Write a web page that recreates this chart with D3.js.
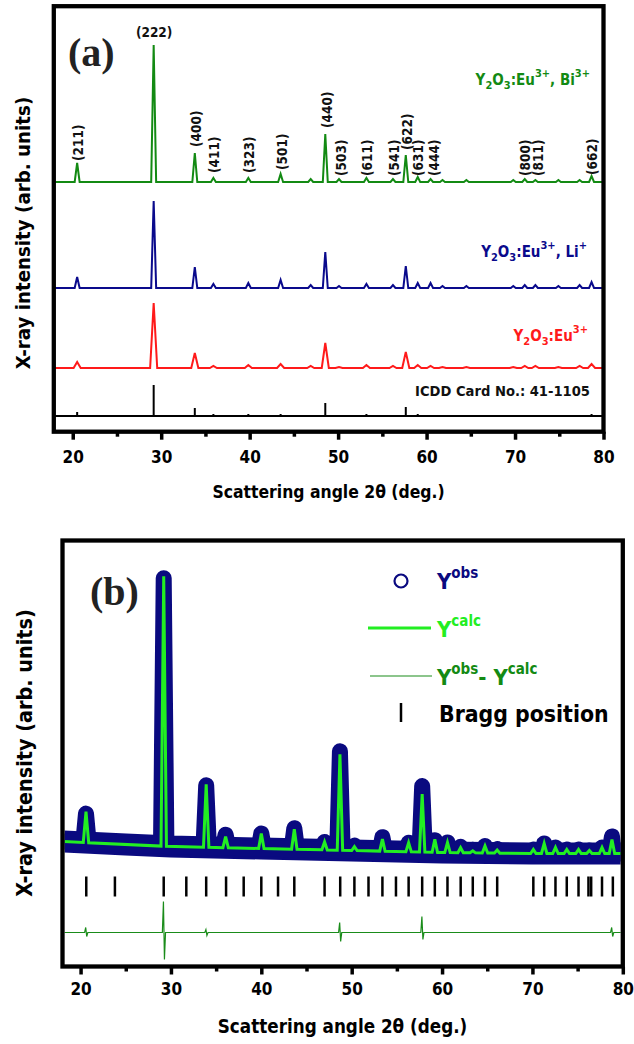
<!DOCTYPE html>
<html>
<head>
<meta charset="utf-8">
<script src="https://d3js.org/d3.v7.min.js"></script>
<style>
  body { margin: 0; background: #fff; }
  text { font-family: "DejaVu Sans Condensed", "DejaVu Sans", sans-serif; font-weight: bold; }
</style>
</head>
<body>
<div id="chart"></div>
<script>
var W = 634, H = 1044;

var xTicks = [20, 30, 40, 50, 60, 70, 80];
var xMinorTicks = [25, 35, 45, 55, 65, 75];

// ---- panel (a): peak positions (2theta) and heights above each trace baseline ----
var peakPos = [20.5, 29.15, 33.8, 35.9, 39.85, 43.5, 46.9, 48.55, 50.1, 53.2, 56.2, 57.65, 59.0, 60.45, 61.8, 64.5, 69.8, 71.1, 72.3, 74.9, 77.3, 78.65];
var biHeights = [19, 137, 29, 4, 4, 8, 3, 48, 3, 4, 3, 27, 5, 3, 2, 2, 2, 3, 2, 2, 2, 6];
var liHeights = [11, 87, 21, 4, 5, 8, 3, 36, 2, 4, 3, 22, 5, 5, 2, 2, 2, 3, 3, 2, 3, 6];
var euHeights = [6, 65, 15, 2, 3, 4, 2, 25, 1, 3, 2, 16, 3, 2, 1, 1, 1, 2, 2, 1, 2, 4];
var icddHeights = [4, 31, 8, 2, 2, 2, 1, 13, 1, 2, 1, 9, 2, 1, 1, 1, 1, 1, 1, 1, 1, 2];
var traceOffsets = [250, 144, 64];
var icddBase = 16;

// hkl labels on the top trace (label centre, label start above trace baseline)
var hklText = ["(211)", "(400)", "(411)", "(323)", "(501)", "(440)", "(503)", "(611)", "(541)", "(622)", "(631)", "(444)", "(800)", "(811)", "(662)"];
var hklPos = [20.6, 33.9, 35.95, 39.9, 43.65, 48.75, 50.3, 53.3, 56.3, 57.75, 59.05, 60.8, 71.1, 72.65, 78.75];
var hklLevel = [21, 35, 9, 9, 12, 54, 6, 6, 6, 32, 6, 6, 6, 6, 7];

// ---- panel (b): Rietveld refinement ----
var bgPos = [18, 25, 30, 40, 50, 60, 70, 80];
var bgLevel = [125, 122, 120, 118, 116, 114, 113, 113];
var calcPos = [20.6, 29.2, 33.9, 36.05, 40.0, 43.65, 47.0, 48.7, 50.3, 53.4, 56.3, 57.8, 59.2, 60.6, 62.05, 63.4, 64.75, 66.1, 70.1, 71.3, 72.55, 73.8, 75.1, 76.3, 77.7, 78.8];
var calcHeights = [31, 270, 63, 11, 15, 20, 8, 96, 4, 12, 9, 58, 13, 10, 5, 2, 7, 3, 4, 10, 6, 4, 4, 3, 6, 14];
var obsHeights = [29, 268, 62, 13, 15, 21, 8, 99, 5, 14, 9, 66, 12, 10, 6, 3, 7, 4, 4, 10, 6, 4, 4, 3, 6, 17];
var braggPos = [20.63, 23.8, 29.2, 31.7, 33.9, 36.1, 38.05, 40.0, 41.85, 43.65, 47.0, 48.73, 50.3, 51.86, 53.4, 54.9, 56.3, 57.8, 59.2, 60.6, 62.06, 63.4, 64.75, 66.1, 70.1, 71.3, 72.55, 73.8, 75.1, 76.2, 76.5, 77.7, 78.9];
var diffPos = [20.6, 29.2, 33.9, 48.7, 57.8, 78.8];
var diffUp = [5, 31, 3, 10, 16, 5];
var diffDown = [-4, -27, -3, -9, -7, -4];
var diffLevel = 34;

var svg = d3.select("#chart").append("svg")
    .attr("width", W)
    .attr("height", H);

function profile(pos, hts, w, lo, hi) {
    var pts = [[lo, 0]];
    pos.forEach(function (p, i) {
        pts.push([p - w, 0], [p, hts[i]], [p + w, 0]);
    });
    pts.push([hi, 0]);
    return pts;
}

function frame(x0, y0, x1, y1) {
    svg.append("rect")
        .attr("x", x0).attr("y", y0)
        .attr("width", x1 - x0).attr("height", y1 - y0)
        .attr("fill", "none").attr("stroke", "#000").attr("stroke-width", 4.3);
}

function xAxis(x, y0, labelY) {
    var g = svg.append("g").attr("transform", "translate(0," + y0 + ")")
        .call(d3.axisBottom(x).tickValues(xTicks).tickSize(8).tickFormat(d3.format("d")));
    g.select(".domain").remove();
    g.selectAll("line").attr("stroke-width", 3.5);
    g.selectAll("text").attr("y", labelY).attr("dy", null).attr("font-size", 17).attr("fill", "#000");
    var m = svg.append("g").attr("transform", "translate(0," + y0 + ")")
        .call(d3.axisBottom(x).tickValues(xMinorTicks).tickSize(5).tickFormat(""));
    m.select(".domain").remove();
    m.selectAll("line").attr("stroke-width", 3.5);
}

// rich text with sub/superscripts: parts = [[text, "n"|"sub"|"sup"], ...]
function richText(x, y, parts, size, small, color, anchor) {
    var t = svg.append("text").attr("x", x).attr("y", y)
        .attr("fill", color).attr("text-anchor", anchor || "start");
    var shift = 0;
    parts.forEach(function (p) {
        var target = p[1] === "sub" ? small * 0.35 : p[1] === "sup" ? -small * 0.75 : 0;
        t.append("tspan").attr("dy", target - shift)
            .attr("font-size", p[1] === "n" ? size : small)
            .text(p[0]);
        shift = target;
    });
    return t;
}

// ================= panel (a) =================
var xA = d3.scaleLinear().domain([17.86, 80]).range([53.8, 603.5]);
var yA = d3.scaleLinear().domain([0, 425]).range([432, 7]);

var traceColors = ["#138a13", "#0a0a8c", "#ff1a1a"];
var traceHeights = [biHeights, liHeights, euHeights];
var traceWidths = [0.28, 0.28, 0.4];

traceHeights.forEach(function (hts, k) {
    var off = traceOffsets[k];
    var line = d3.line()
        .x(function (d) { return xA(d[0]); })
        .y(function (d) { return yA(off + d[1]); });
    svg.append("path")
        .datum(profile(peakPos, hts, traceWidths[k], 17.86, 80))
        .attr("d", line)
        .attr("fill", "none")
        .attr("stroke", traceColors[k])
        .attr("stroke-width", 2);
});

// ICDD reference sticks
svg.append("line")
    .attr("x1", xA(17.86)).attr("x2", xA(80))
    .attr("y1", yA(icddBase)).attr("y2", yA(icddBase))
    .attr("stroke", "#000").attr("stroke-width", 2);
svg.selectAll(".icdd").data(peakPos).enter().append("line")
    .attr("class", "icdd")
    .attr("x1", function (d) { return xA(d); })
    .attr("x2", function (d) { return xA(d); })
    .attr("y1", yA(icddBase))
    .attr("y2", function (d, i) { return yA(icddBase + icddHeights[i]); })
    .attr("stroke", "#000").attr("stroke-width", 2);

// hkl labels
svg.append("text")
    .attr("x", xA(29.2)).attr("y", 37)
    .attr("text-anchor", "middle").attr("font-size", 13.5).attr("fill", "#111")
    .text("(222)");
svg.selectAll(".hkl").data(hklText).enter().append("text")
    .attr("class", "hkl")
    .attr("transform", function (d, i) {
        return "translate(" + xA(hklPos[i]) + "," + yA(traceOffsets[0] + hklLevel[i]) + ") rotate(-90)";
    })
    .attr("dy", "0.36em")
    .attr("font-size", 13.5).attr("fill", "#111")
    .text(function (d) { return d; });

// sample labels
richText(590, 85, [["Y", "n"], ["2", "sub"], ["O", "n"], ["3", "sub"], [":Eu", "n"], ["3+", "sup"], [", Bi", "n"], ["3+", "sup"]], 15, 11, traceColors[0], "end");
richText(587, 257, [["Y", "n"], ["2", "sub"], ["O", "n"], ["3", "sub"], [":Eu", "n"], ["3+", "sup"], [", Li", "n"], ["+", "sup"]], 15, 11, traceColors[1], "end");
richText(588, 341, [["Y", "n"], ["2", "sub"], ["O", "n"], ["3", "sub"], [":Eu", "n"], ["3+", "sup"]], 15, 11, traceColors[2], "end");
svg.append("text")
    .attr("x", 590).attr("y", 396)
    .attr("text-anchor", "end").attr("font-size", 14.6).attr("fill", "#111")
    .text("ICDD Card No.: 41-1105");

frame(53.8, 6.2, 603.5, 431.7);
xAxis(xA, 431.7, 31);

svg.append("text")
    .attr("x", 68).attr("y", 66)
    .style("font-family", "'Liberation Serif', serif")
    .attr("font-size", 40).attr("fill", "#222")
    .text("(a)");
svg.append("text")
    .attr("x", 328.5).attr("y", 498)
    .attr("text-anchor", "middle").attr("font-size", 17.4)
    .text("Scattering angle 2\u03b8 (deg.)");
svg.append("text")
    .attr("transform", "translate(30,233) rotate(-90)")
    .attr("text-anchor", "middle").attr("font-size", 20.3)
    .text("X-ray intensity (arb. units)");

// ================= panel (b) =================
var xB = d3.scaleLinear().domain([18, 80]).range([62.5, 622.8]);
var yB = d3.scaleLinear().domain([0, 426]).range([966.5, 540.5]);
var bg = d3.scaleLinear().domain(bgPos).range(bgLevel);

var lineB = d3.line()
    .x(function (d) { return xB(d[0]); })
    .y(function (d) { return yB(bg(d[0]) + d[1]); });

svg.append("clipPath").attr("id", "clipB")
    .append("rect").attr("x", 64.6).attr("y", 542.6).attr("width", 556).attr("height", 422);

var plotB = svg.append("g").attr("clip-path", "url(#clipB)");

// observed points: dense circles form a thick band
plotB.append("path")
    .datum(bgPos.map(function (p) { return [p, 0]; }))
    .attr("d", lineB)
    .attr("fill", "none").attr("stroke", "#0a0a80").attr("stroke-width", 22);
plotB.append("path")
    .datum(profile(calcPos, obsHeights, 0.3, 18, 80))
    .attr("d", lineB)
    .attr("fill", "none").attr("stroke", "#0a0a80")
    .attr("stroke-width", 16).attr("stroke-linejoin", "round");

// calculated profile
plotB.append("path")
    .datum(profile(calcPos, calcHeights, 0.3, 18, 80))
    .attr("d", lineB)
    .attr("fill", "none").attr("stroke", "#22ee22").attr("stroke-width", 3);

// Bragg positions
plotB.selectAll(".bragg").data(braggPos).enter().append("line")
    .attr("class", "bragg")
    .attr("x1", function (d) { return xB(d); })
    .attr("x2", function (d) { return xB(d); })
    .attr("y1", yB(70)).attr("y2", yB(90))
    .attr("stroke", "#000").attr("stroke-width", 2.5);

// difference curve
var diffPts = [[18, 0]];
diffPos.forEach(function (p, i) {
    diffPts.push([p - 0.15, 0], [p - 0.03, diffUp[i]], [p + 0.08, diffDown[i]], [p + 0.2, 0]);
});
diffPts.push([80, 0]);
plotB.append("path")
    .datum(diffPts)
    .attr("d", d3.line()
        .x(function (d) { return xB(d[0]); })
        .y(function (d) { return yB(diffLevel + d[1]); }))
    .attr("fill", "none").attr("stroke", "#1a8c1a").attr("stroke-width", 1.2);

frame(62.5, 540.5, 622.8, 966.5);
xAxis(xB, 966.5, 28.5);

// legend (b)
svg.append("circle").attr("cx", 401).attr("cy", 581).attr("r", 6.5)
    .attr("fill", "none").attr("stroke", "#0a0a80").attr("stroke-width", 2.2);
richText(437, 589, [["Y", "n"], ["obs", "sup"]], 22, 15, "#0a0a80");
svg.append("line").attr("x1", 368).attr("x2", 431).attr("y1", 628).attr("y2", 628)
    .attr("stroke", "#22ee22").attr("stroke-width", 3);
richText(437, 637, [["Y", "n"], ["calc", "sup"]], 22, 15, "#22ee22");
svg.append("line").attr("x1", 370).attr("x2", 432).attr("y1", 676).attr("y2", 676)
    .attr("stroke", "#1a8c1a").attr("stroke-width", 1.2);
richText(437, 685, [["Y", "n"], ["obs", "sup"], ["- ", "n"], ["Y", "n"], ["calc", "sup"]], 22, 15, "#138a13");
svg.append("line").attr("x1", 401).attr("x2", 401).attr("y1", 703).attr("y2", 722)
    .attr("stroke", "#000").attr("stroke-width", 2.5);
svg.append("text").attr("x", 439).attr("y", 722).attr("font-size", 22.8).text("Bragg position");

svg.append("text")
    .attr("x", 90).attr("y", 605)
    .style("font-family", "'Liberation Serif', serif")
    .attr("font-size", 40).attr("fill", "#222")
    .text("(b)");
svg.append("text")
    .attr("x", 342.5).attr("y", 1033)
    .attr("text-anchor", "middle").attr("font-size", 18.7)
    .text("Scattering angle 2\u03b8 (deg.)");
svg.append("text")
    .attr("transform", "translate(32,753) rotate(-90)")
    .attr("text-anchor", "middle").attr("font-size", 21.4)
    .text("X-ray intensity (arb. units)");
</script>
</body>
</html>
